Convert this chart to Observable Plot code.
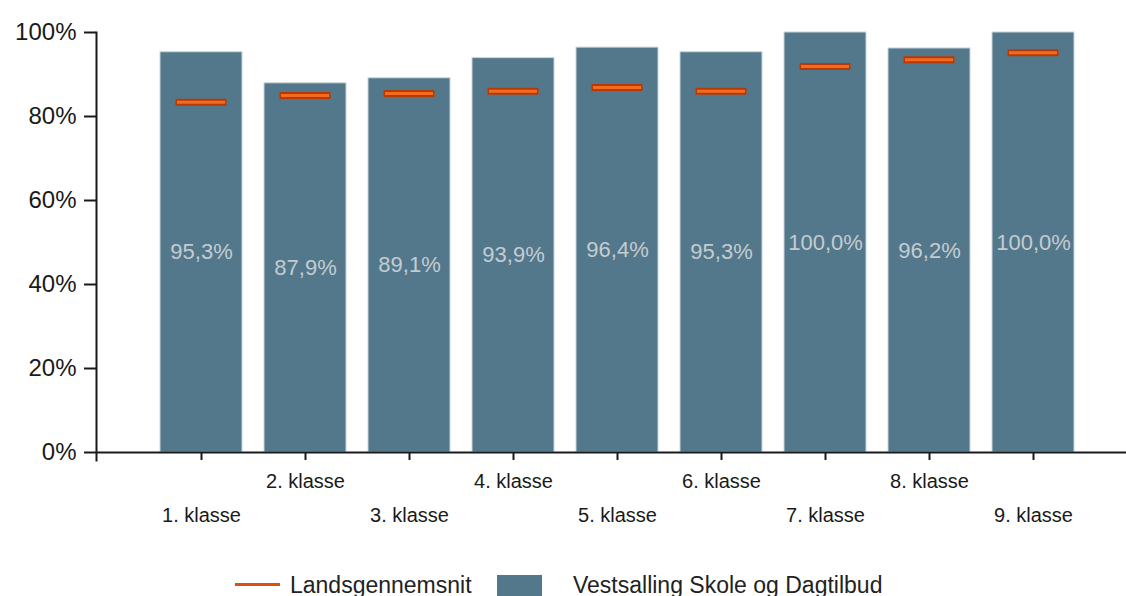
<!DOCTYPE html>
<html>
<head>
<meta charset="utf-8">
<script src="https://cdn.jsdelivr.net/npm/d3@7"></script>
<script src="https://cdn.jsdelivr.net/npm/@observablehq/plot@0.6"></script>
<style>
  html, body { margin: 0; padding: 0; background: #fff; overflow: hidden; }
  body { width: 1126px; height: 596px; position: relative; font-family: "Liberation Sans", Arial, sans-serif; }
  #chart svg { display: block; }
  .leg { position: absolute; top: 572px; height: 26px; line-height: 26px; font-size: 23px; color: #222; white-space: nowrap; }
</style>
</head>
<body>
<div id="chart"></div>
<div class="leg" style="left:235px;top:583px;width:45px;height:3px;background:#D9500F;"></div>
<div class="leg" style="left:290px;">Landsgennemsnit</div>
<div class="leg" style="left:497px;top:575px;width:45px;height:22px;background:#53788B;"></div>
<div class="leg" style="left:573px;">Vestsalling Skole og Dagtilbud</div>
<script>
const categories = ["1. klasse", "2. klasse", "3. klasse", "4. klasse", "5. klasse", "6. klasse", "7. klasse", "8. klasse", "9. klasse"];
const schoolValues = [95.3, 87.9, 89.1, 93.9, 96.4, 95.3, 100.0, 96.2, 100.0];
const nationalAverage = [83.4, 85.0, 85.5, 86.0, 86.9, 86.0, 91.9, 93.5, 95.2];
const yTicks = [0, 20, 40, 60, 80, 100];

const data = categories.map((k, i) => ({klasse: k, value: schoolValues[i], avg: nationalAverage[i]}));
const fmtPct = v => v.toFixed(1).replace(".", ",") + "%";

const chart = Plot.plot({
  width: 1126,
  height: 565,
  marginLeft: 96,
  marginRight: 0,
  marginTop: 32,
  marginBottom: 113,
  style: {fontFamily: "'Liberation Sans', Arial, sans-serif", color: "#1a1a1a", background: "#fff"},
  x: {domain: categories, range: [159, 1075], paddingInner: 0.213, paddingOuter: 0, axis: null},
  y: {domain: [0, 100], axis: null},
  marks: [
    Plot.barY(data, {x: "klasse", y: "value", fill: "#53788B", stroke: "#c8d6dd", strokeWidth: 1}),
    Plot.tickY(data, {x: "klasse", y: "avg", stroke: "#B43A08", strokeWidth: 7, inset: 15.5}),
    Plot.tickY(data, {x: "klasse", y: "avg", stroke: "#F56A1C", strokeWidth: 3, inset: 17}),
    Plot.text(data, {x: "klasse", y: d => d.value / 2, text: d => fmtPct(d.value), fill: "#c3ccd1", fontSize: 22}),
    Plot.frame({anchor: "left", stroke: "#1a1a1a", strokeWidth: 2, insetBottom: -8}),
    Plot.ruleY([0], {stroke: "#1a1a1a", strokeWidth: 2}),
    Plot.axisY({ticks: yTicks, tickFormat: d => d + "%", tickSize: 12, tickPadding: 8, fontSize: 24, strokeWidth: 2, label: null}),
    Plot.axisX({tickSize: 8, tickFormat: () => "", strokeWidth: 2, label: null}),
    Plot.text(categories.filter((d, i) => i % 2 === 1), {x: d => d, frameAnchor: "bottom", dy: 35, fontSize: 20, fill: "#1a1a1a"}),
    Plot.text(categories.filter((d, i) => i % 2 === 0), {x: d => d, frameAnchor: "bottom", dy: 69, fontSize: 20, fill: "#1a1a1a"})
  ]
});
document.getElementById("chart").appendChild(chart);
</script>
</body>
</html>
